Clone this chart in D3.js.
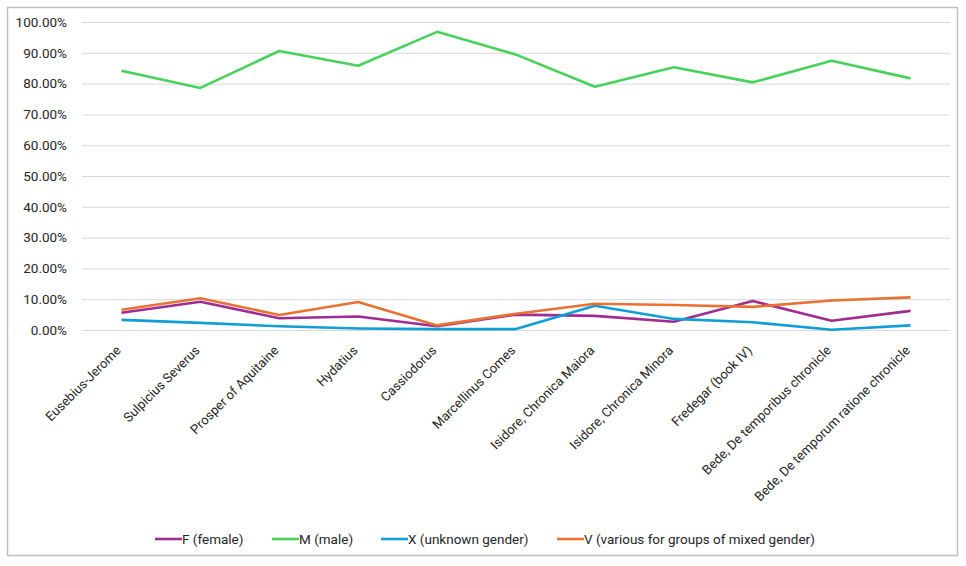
<!DOCTYPE html>
<html>
<head>
<meta charset="utf-8">
<script src="https://cdn.jsdelivr.net/npm/d3@7"></script>
<style>
  body { margin: 0; background: #fff; }
  text { font-family: Roboto, "Liberation Sans", sans-serif; fill: #262626; }
</style>
</head>
<body>
<div id="chart"></div>
<script>
// chronicles on the x axis
const chronicles = [
  "Eusebius-Jerome", "Sulpicius Severus", "Prosper of Aquitaine", "Hydatius",
  "Cassiodorus", "Marcellinus Comes", "Isidore, Chronica Maiora",
  "Isidore, Chronica Minora", "Fredegar (book IV)",
  "Bede, De temporibus chronicle", "Bede, De temporum ratione chronicle"
];

// share per gender (fraction)
const femaleVals  = [0.056, 0.092, 0.038, 0.044, 0.012, 0.050, 0.046, 0.027, 0.094, 0.030, 0.062];
const maleVals    = [0.842, 0.786, 0.906, 0.858, 0.968, 0.894, 0.790, 0.853, 0.804, 0.874, 0.817];
const unknownVals = [0.033, 0.023, 0.012, 0.005, 0.003, 0.003, 0.079, 0.036, 0.025, 0.001, 0.015];
const variousVals = [0.066, 0.103, 0.049, 0.091, 0.015, 0.053, 0.085, 0.081, 0.075, 0.096, 0.106];

const seriesNames = ["F (female)", "M (male)", "X (unknown gender)", "V (various for groups of mixed gender)"];
const seriesColors = ["#A02B93", "#47D35A", "#0F9ED5", "#E97132"];
const yTicks = [0, 0.1, 0.2, 0.3, 0.4, 0.5, 0.6, 0.7, 0.8, 0.9, 1.0];

const W = 966, H = 566;
const margin = { top: 22, right: 16, bottom: 236, left: 82 };
const width = 950 - margin.left,
  height = 330 - margin.top;

const svg = d3.select("#chart").append("svg")
  .attr("width", W).attr("height", H);

// outer frame
svg.append("rect")
  .attr("x", 7.5).attr("y", 7.5)
  .attr("width", 950).attr("height", 548)
  .attr("fill", "none").attr("stroke", "#bfbfbf").attr("stroke-width", 1.5);

const g = svg.append("g").attr("transform", `translate(${margin.left},${margin.top})`);

const x = d3.scaleBand().domain(chronicles).range([0, width]);
const y = d3.scaleLinear().domain([0, 1]).range([height, 0]);

// gridlines + y labels
const yAxis = g.append("g")
  .call(d3.axisLeft(y).tickValues(yTicks).tickSize(-width).tickFormat(d3.format(".2%")));
yAxis.select(".domain").remove();
yAxis.selectAll(".tick line").attr("stroke", "#d9d9d9").attr("stroke-width", 1);
yAxis.selectAll(".tick text")
  .attr("x", -15)
  .style("font-size", "13.5px")
  .style("font-family", "Roboto, sans-serif")
  .attr("fill", "#262626");

// x labels
const xAxis = g.append("g")
  .attr("transform", `translate(0,${height})`)
  .call(d3.axisBottom(x).tickSize(0));
xAxis.select(".domain").remove();
xAxis.selectAll(".tick text")
  .attr("text-anchor", "end")
  .attr("transform", "translate(-3,18) rotate(-45)")
  .attr("dy", "0.35em")
  .attr("y", 0)
  .style("font-size", "13px")
  .style("font-family", "Roboto, sans-serif")
  .attr("fill", "#262626");

// lines
const allSeries = [femaleVals, maleVals, unknownVals, variousVals];
const line = d3.line()
  .x((d, i) => x(chronicles[i]) + x.bandwidth() / 2)
  .y(d => y(d));

allSeries.forEach((vals, k) => {
  g.append("path")
    .datum(vals)
    .attr("fill", "none")
    .attr("stroke", seriesColors[k])
    .attr("stroke-width", 2.6)
    .attr("stroke-linejoin", "round")
    .attr("d", line);
});

// legend
const legendX = [155, 272, 381, 557];
const legend = svg.append("g").attr("transform", "translate(0,539)");
seriesNames.forEach((name, k) => {
  const item = legend.append("g").attr("transform", `translate(${legendX[k]},0)`);
  item.append("line")
    .attr("x1", 0).attr("x2", 27).attr("y1", 0).attr("y2", 0)
    .attr("stroke", seriesColors[k]).attr("stroke-width", 2.6);
  item.append("text")
    .attr("x", 27).attr("y", 0).attr("dy", "0.35em")
    .style("font-size", "13.5px")
    .text(name);
});
</script>
</body>
</html>
